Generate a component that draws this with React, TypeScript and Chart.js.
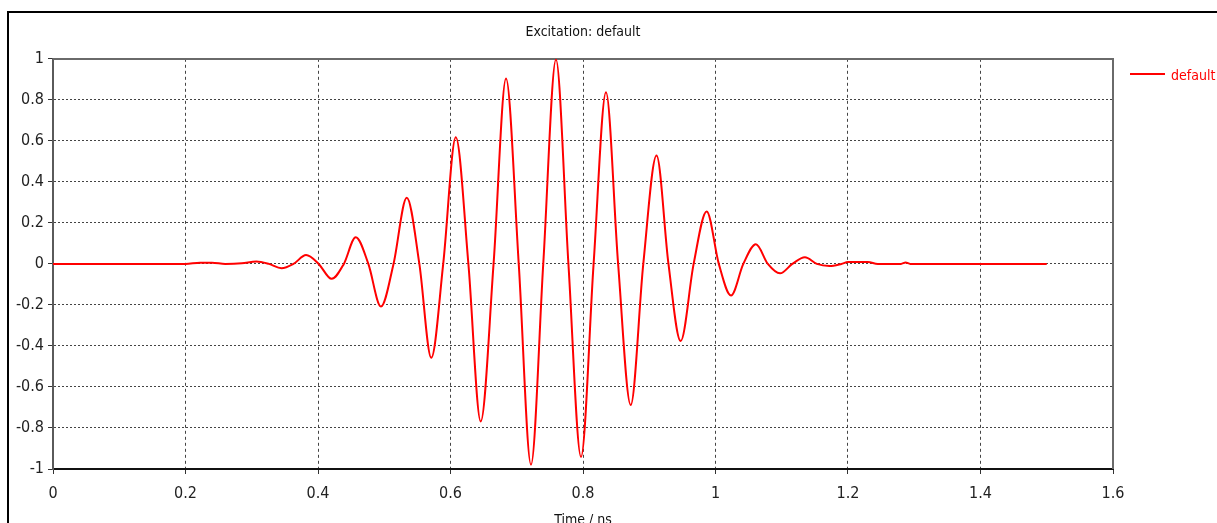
import React, { useEffect, useRef } from "react";
import { Chart, registerables } from "chart.js";

Chart.register(...registerables);

const TITLE = "Excitation: default";
const X_TITLE = "Time / ns";
const SERIES_NAME = "default";

const TIME_NS = [
  0, 0.2, 0.222, 0.24, 0.26, 0.285, 0.307, 0.326, 0.345, 0.363, 0.382, 0.401,
  0.4206, 0.439, 0.457, 0.476, 0.495, 0.514, 0.534, 0.553, 0.571, 0.589, 0.608,
  0.627, 0.6456, 0.665, 0.6838, 0.703, 0.7215, 0.74, 0.7592, 0.778, 0.797,
  0.816, 0.8347, 0.853, 0.872, 0.891, 0.911, 0.929, 0.9474, 0.967, 0.9867,
  1.005, 1.0234, 1.042, 1.061, 1.079, 1.0974, 1.116, 1.135, 1.153, 1.172, 1.19,
  1.2, 1.23, 1.245, 1.28, 1.287, 1.294, 1.5,
];

const AMPLITUDE = [
  0, 0, 0.006, 0.006, 0, 0.003, 0.012, 0, -0.021, 0, 0.043, 0,
  -0.073, 0, 0.13, 0, -0.208, 0, 0.323, 0, -0.458, 0, 0.617,
  0, -0.768, 0, 0.904, 0, -0.979, 0, 0.997, 0, -0.941,
  0, 0.837, 0, -0.688, 0, 0.528, 0, -0.376, 0, 0.256,
  0, -0.154, 0, 0.096, 0, -0.046, 0, 0.032, 0, -0.01, 0,
  0.009, 0.009, 0, 0, 0.007, 0, 0,
];

const X_TICKS = [0, 0.2, 0.4, 0.6, 0.8, 1, 1.2, 1.4, 1.6];
const Y_TICKS = [-1, -0.8, -0.6, -0.4, -0.2, 0, 0.2, 0.4, 0.6, 0.8, 1];

const FONT = "'DejaVu Sans Condensed', 'Liberation Sans', Arial, sans-serif";

const framePlugin = {
  id: "frame",
  beforeDatasetsDraw(chart: any) {
    const { ctx, chartArea } = chart;
    ctx.save();
    ctx.strokeStyle = "#6a6a6a";
    ctx.lineWidth = 2;
    ctx.beginPath();
    ctx.moveTo(chartArea.left, Math.round(chartArea.top));
    ctx.lineTo(Math.round(chartArea.right), Math.round(chartArea.top));
    ctx.lineTo(Math.round(chartArea.right), chartArea.bottom);
    ctx.stroke();
    ctx.restore();
  },
  afterDraw(chart: any) {
    const { ctx, chartArea } = chart;
    const y = 74;
    ctx.save();
    ctx.strokeStyle = "#ff0000";
    ctx.lineWidth = 2;
    ctx.beginPath();
    ctx.moveTo(chartArea.right + 17, y);
    ctx.lineTo(chartArea.right + 52, y);
    ctx.stroke();
    ctx.fillStyle = "#ff0000";
    ctx.font = `14px ${FONT}`;
    ctx.textBaseline = "middle";
    ctx.textAlign = "left";
    ctx.fillText(SERIES_NAME, chartArea.right + 58, y + 2);
    ctx.restore();
  },
};

export default function App() {
  const canvasRef = useRef<HTMLCanvasElement | null>(null);

  useEffect(() => {
    const canvas = canvasRef.current;
    if (!canvas) return;
    const points = TIME_NS.map((t, i) => ({ x: t, y: AMPLITUDE[i] }));
    const chart = new Chart(canvas, {
      type: "line",
      data: {
        datasets: [
          {
            label: SERIES_NAME,
            data: points,
            borderColor: "#ff0000",
            backgroundColor: "#ff0000",
            borderWidth: 2,
            pointRadius: 0,
            cubicInterpolationMode: "monotone",
            fill: false,
          },
        ],
      },
      options: {
        responsive: false,
        animation: false,
        layout: { padding: { left: 0, right: 104, top: 0, bottom: 0 } },
        plugins: {
          legend: { display: false },
          tooltip: { enabled: false },
          title: {
            display: true,
            text: TITLE,
            fullSize: false,
            color: "#111",
            font: { family: FONT, size: 14, weight: "normal", lineHeight: 1.2 },
            padding: { top: 24, bottom: 18 },
          },
        },
        scales: {
          x: {
            type: "linear",
            min: 0,
            max: 1.6,
            afterBuildTicks: (scale: any) => {
              scale.ticks = X_TICKS.map((v) => ({ value: v }));
            },
            afterFit: (scale: any) => {
              scale.height = 61;
            },
            ticks: {
              color: "#222",
              font: { family: FONT, size: 16 },
              padding: 10,
              maxRotation: 0,
              autoSkip: false,
              callback: (v: any) => String(v),
            },
            grid: {
              color: (c: any) =>
                c.tick && c.tick.value === 1.6 ? "rgba(0,0,0,0)" : "#444",
              lineWidth: 1,
              tickLength: 5,
              tickColor: "#333",
              tickWidth: 1,
            },
            border: { color: "#111", width: 2, dash: [3, 3] },
            title: {
              display: true,
              text: X_TITLE,
              color: "#111",
              font: { family: FONT, size: 14 },
              padding: { top: 0, bottom: 1 },
            },
          },
          y: {
            type: "linear",
            min: -1,
            max: 1,
            afterBuildTicks: (scale: any) => {
              scale.ticks = Y_TICKS.map((v) => ({ value: v }));
            },
            afterFit: (scale: any) => {
              scale.width = 53;
            },
            ticks: {
              color: "#222",
              font: { family: FONT, size: 16 },
              padding: 4,
              autoSkip: false,
              callback: (v: any) => String(v),
            },
            grid: {
              color: (c: any) =>
                c.tick && c.tick.value === 1 ? "rgba(0,0,0,0)" : "#444",
              lineWidth: 1,
              tickLength: 5,
              tickColor: "#333",
              tickWidth: 1,
            },
            border: { color: "#5a5a5a", width: 2, dash: [2, 2] },
          },
        },
      },
      plugins: [framePlugin],
    });
    return () => chart.destroy();
  }, []);

  return (
    <div>
      <div
        style={{
          position: "fixed",
          left: 7,
          top: 11,
          width: 1300,
          height: 600,
          borderTop: "2px solid #000",
          borderLeft: "2px solid #000",
          background: "#fff",
        }}
      />
      <canvas
        ref={canvasRef}
        width={1217}
        height={530}
        style={{ position: "fixed", left: 0, top: 0, width: 1217, height: 530 }}
      />
    </div>
  );
}
